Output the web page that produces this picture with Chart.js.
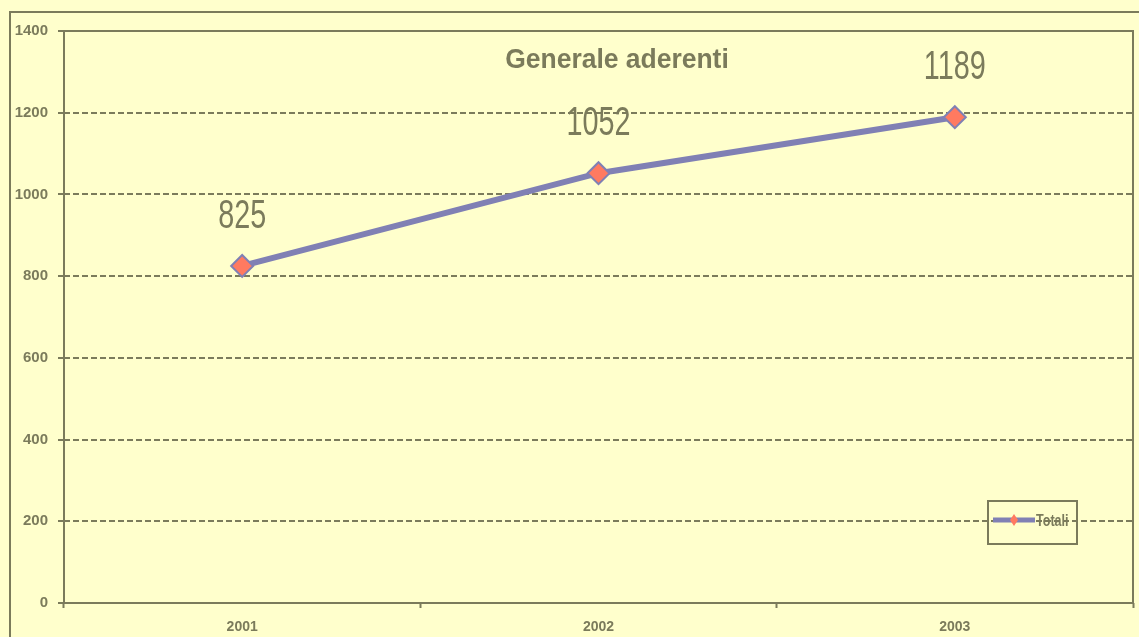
<!DOCTYPE html>
<html>
<head>
<meta charset="utf-8">
<title>Generale aderenti</title>
<script src="https://cdn.jsdelivr.net/npm/chart.js@4.4.1/dist/chart.umd.min.js"></script>
<style>
  html, body { margin: 0; padding: 0; background: #ffffcc; overflow: hidden; }
  canvas { display: block; }
</style>
</head>
<body>
<canvas id="chart" width="1139" height="637"></canvas>
<script>
/* --------------- Dati --------------- */
const years = ["2001", "2002", "2003"];
const totali = [825, 1052, 1189];
const seriesName = "Totali";
const chartTitle = "Generale aderenti";
const yMin = 0;
const yMax = 1400;
const yStep = 200;

/* --------------- Colori --------------- */
const bgColor = "#ffffcc";
const axisColor = "#7b7b5b";
const lineColor = "#8080b4";
const markerColor = "#ff7a60";

// testo stretto: disegna con una scala orizzontale
const narrowText = (ctx, str, x, y, sx) => {
  ctx.save();
  ctx.translate(x, y);
  ctx.scale(sx, 1);
  ctx.fillText(str, 0, 0);
  ctx.restore();
};

// sfondo, cornice esterna, bordo dell'area del grafico
const framePlugin = {
  id: "frame",
  beforeDraw(chart) {
    const ctx = chart.ctx;
    ctx.save();
    ctx.fillStyle = bgColor;
    ctx.fillRect(0, 0, chart.width, chart.height);
    ctx.strokeStyle = axisColor;
    ctx.lineWidth = 2;
    ctx.beginPath();
    ctx.moveTo(10, chart.height);
    ctx.lineTo(10, 12);
    ctx.lineTo(chart.width, 12);
    ctx.stroke();
    ctx.restore();
  },
  beforeDatasetsDraw(chart) {
    const { ctx, chartArea: a } = chart;
    ctx.save();
    ctx.strokeStyle = axisColor;
    ctx.lineWidth = 2;
    ctx.strokeRect(a.left, a.top, a.right - a.left, a.bottom - a.top);
    ctx.restore();
  },
};

// titolo, etichette dei valori e legenda
const labelsPlugin = {
  id: "labels",
  afterDatasetsDraw(chart) {
    const ctx = chart.ctx;
    ctx.save();
    ctx.fillStyle = axisColor;
    ctx.textAlign = "center";
    ctx.textBaseline = "middle";

    ctx.font = "bold 27px 'Liberation Sans', Arial, sans-serif";
    narrowText(ctx, chartTitle, 617, 61, 0.98);

    ctx.font = "40px 'Liberation Sans', Arial, sans-serif";
    const meta = chart.getDatasetMeta(0);
    meta.data.forEach((pt, i) => {
      narrowText(ctx, String(totali[i]), pt.x, pt.y - 49, 0.72);
    });

    // legenda
    const lx = 988, ly = 501, lw = 89, lh = 43;
    ctx.strokeStyle = axisColor;
    ctx.lineWidth = 2;
    ctx.strokeRect(lx, ly, lw, lh);
    const cy = ly + 19;
    ctx.strokeStyle = lineColor;
    ctx.lineWidth = 5;
    ctx.beginPath();
    ctx.moveTo(lx + 5, cy);
    ctx.lineTo(lx + 47, cy);
    ctx.stroke();
    ctx.fillStyle = markerColor;
    ctx.beginPath();
    ctx.moveTo(lx + 26, cy - 6);
    ctx.lineTo(lx + 30, cy);
    ctx.lineTo(lx + 26, cy + 6);
    ctx.lineTo(lx + 22, cy);
    ctx.closePath();
    ctx.fill();
    ctx.fillStyle = axisColor;
    ctx.textAlign = "left";
    ctx.font = "bold 17px 'Liberation Sans', Arial, sans-serif";
    narrowText(ctx, seriesName, lx + 48, cy + 1, 0.74);
    ctx.restore();
  },
};

new Chart(document.getElementById("chart"), {
  type: "line",
  plugins: [framePlugin, labelsPlugin],
  data: {
    labels: years,
    datasets: [
      {
        label: seriesName,
        data: totali,
        borderColor: lineColor,
        borderWidth: 6,
        tension: 0,
        pointStyle: "rectRot",
        pointRadius: 11,
        pointBackgroundColor: markerColor,
        pointBorderColor: lineColor,
        pointBorderWidth: 2,
      },
    ],
  },
  options: {
    responsive: false,
    devicePixelRatio: 1,
    animation: false,
    layout: {
      autoPadding: false,
      padding: { top: 31, right: 6, left: 0, bottom: 0 },
    },
    plugins: {
      legend: { display: false },
      title: { display: false },
      tooltip: { enabled: false },
    },
    scales: {
      x: {
        offset: true,
        afterFit(scale) {
          scale.height = 34;
          scale.paddingLeft = 0;
          scale.paddingRight = 0;
        },
        grid: {
          offset: true,
          drawOnChartArea: false,
          drawTicks: true,
          tickLength: 5,
          tickColor: axisColor,
          tickWidth: 2,
        },
        border: { display: false },
        ticks: {
          color: axisColor,
          padding: 11,
          maxRotation: 0,
          font: { family: "'Liberation Sans', Arial, sans-serif", size: 14, weight: "bold" },
        },
      },
      y: {
        min: yMin,
        max: yMax,
        afterFit(scale) { scale.width = 64; },
        grid: {
          color: axisColor,
          lineWidth: 2,
          tickLength: 6,
          tickColor: axisColor,
          tickWidth: 2,
        },
        border: { display: false, dash: [6, 3] },
        ticks: {
          stepSize: yStep,
          color: axisColor,
          padding: 10,
          callback: (v) => String(v),
          font: { family: "'Liberation Sans', Arial, sans-serif", size: 15, weight: "bold" },
        },
      },
    },
  },
});
</script>
</body>
</html>
